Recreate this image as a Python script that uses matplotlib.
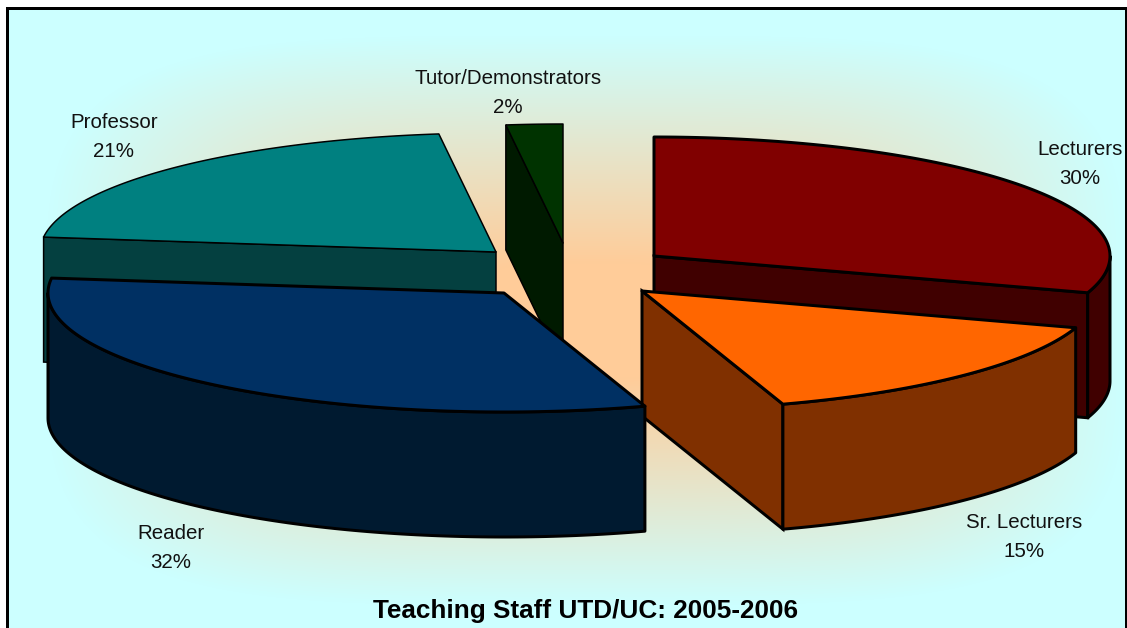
import numpy as np
import matplotlib
matplotlib.use("Agg")
import matplotlib.pyplot as plt

plt.rcParams['font.family'] = ['Liberation Sans', 'DejaVu Sans']

# data
labels = ["Lecturers", "Sr. Lecturers", "Reader", "Professor", "Tutor/Demonstrators"]
shares = [30, 15, 32, 21, 2]
title = "Teaching Staff UTD/UC: 2005-2006"

# look of each slice, same order as labels
top_colors = ["#800000", "#FF6600", "#003063", "#008080", "#003300"]
side_colors = ["#400000", "#803000", "#001A30", "#044040", "#001A00"]
apexes = [(654, 256), (642, 291), (504, 293), (496, 252), (563, 243)]
edge_px = [3, 3, 3, 1.5, 1.5]
label_pos = [(1080, 164), (1024, 537), (171, 548), (114, 137), (508, 93)]

rx, ry, depth = 456, 119, 125

fig = plt.figure(figsize=(11.27, 6.28), dpi=100)
ax = fig.add_axes([0, 0, 1, 1])
ax.set_xlim(0, 1127)
ax.set_ylim(628, 0)
ax.axis("off")

# background: peach middle fading to light cyan, box shaped
xx, yy = np.meshgrid(np.arange(8, 1126), np.arange(9, 628))
dx = np.abs(xx - 585) / 540
dy = np.abs(yy - 320) / 285
t = (dx ** 4 + dy ** 4) ** (1 / 4)
t = np.clip((t - 0.2) / 0.8, 0, 1)[..., None]
inner = np.array([255, 204, 153]) / 255
outer = np.array([204, 255, 255]) / 255
ax.imshow(inner * (1 - t) + outer * t, extent=(8, 1126, 628, 9), aspect="auto", zorder=0)
ax.set_xlim(0, 1127)
ax.set_ylim(628, 0)

# chart frame, runs off the bottom
ax.plot([7, 7, 1125.5, 1125.5], [628, 8, 8, 628], color="black", lw=3 * 0.72, zorder=1,
        solid_joinstyle="miter", solid_capstyle="butt")


def arc(apex, a0, a1):
    a = np.radians(np.linspace(a0, a1, 120))
    return apex[0] + rx * np.sin(a), apex[1] - ry * np.cos(a)


def draw_face(x, y, color, lw, z, join="round"):
    ax.fill(x, y, facecolor=color, edgecolor="black", lw=lw * 0.72, zorder=z, joinstyle=join)


# back slices first, front slices over them
order = [3, 4, 0, 1, 2]
starts = np.cumsum([0] + shares[:-1]) * 3.6
for i in order:
    a0 = starts[i]
    a1 = a0 + shares[i] * 3.6
    ap = apexes[i]
    z = 2 + order.index(i) * 3
    lw = edge_px[i]
    ax_, ay_ = arc(ap, a0, a1)

    # cut faces that look towards us
    if i in (0, 1):
        draw_face([ap[0], ax_[-1], ax_[-1], ap[0]], [ap[1], ay_[-1], ay_[-1] + depth, ap[1] + depth],
                  side_colors[i], lw, z, "miter")
    if i in (3, 4):
        draw_face([ap[0], ax_[0], ax_[0], ap[0]], [ap[1], ay_[0], ay_[0] + depth, ap[1] + depth],
                  side_colors[i], lw, z, "miter")

    # outer wall, only the part of the rim on the near side
    w0, w1 = max(a0, 90), min(a1, 270)
    if w1 > w0:
        wx, wy = arc(ap, w0, w1)
        draw_face(np.r_[wx, wx[::-1]], np.r_[wy, wy[::-1] + depth], side_colors[i], lw, z + 1)

    # top
    draw_face(np.r_[ap[0], ax_], np.r_[ap[1], ay_], top_colors[i], lw, z + 2)

for name, share, (lx, ly) in zip(labels, shares, label_pos):
    ax.text(lx, ly, f"{name}\n{share}%", ha="center", va="center", fontsize=14.8,
            color="#111111", linespacing=1.68, zorder=30)

ax.text(586, 611, title, ha="center", va="center", fontsize=18.8, fontweight="bold", color="black", zorder=30)

fig.savefig("out.png", dpi=100)
